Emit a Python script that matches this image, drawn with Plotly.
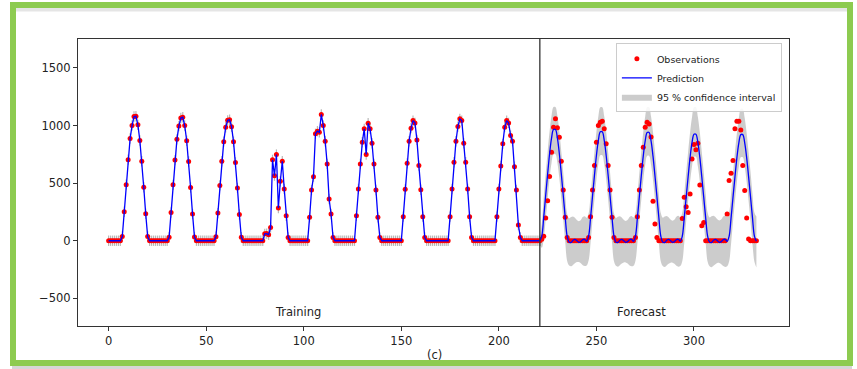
import plotly.graph_objects as go

# ---------------- data ----------------
split_x = 221

train_x = list(range(0, 222))
obs_train = [
    0, 0, 0, 0, 0, 0, 0, 37, 252, 487, 704, 887, 1000, 1078, 1080, 1006, 870, 690, 464, 234, 37, 0, 0, 0,
    0, 0, 0, 0, 0, 0, 0, 30, 245, 485, 700, 880, 995, 1065, 1072, 1000, 868, 688, 462, 232, 32, 0, 0, 0,
    0, 0, 0, 0, 0, 0, 0, 35, 240, 480, 690, 860, 985, 1045, 1050, 990, 860, 680, 458, 228, 30, 0, 0, 0,
    0, 0, 0, 0, 0, 0, 0, 0, 60, 62, 52, 116, 702, 565, 748, 284, 516, 690, 450, 217, 29, 0, 0, 0,
    0, 0, 0, 0, 0, 0, 0, 203, 440, 556, 928, 951, 942, 1096, 1000, 864, 667, 362, 232, 29, 0, 0, 0, 0,
    0, 0, 0, 0, 0, 0, 0, 217, 449, 667, 855, 971, 748, 1020, 971, 846, 667, 440, 203, 29, 0, 0, 0, 0,
    0, 0, 0, 0, 0, 0, 0, 209, 446, 672, 864, 977, 1043, 1023, 875, 652, 443, 209, 29, 0, 0, 0, 0, 0,
    0, 0, 0, 0, 0, 0, 0, 209, 449, 681, 864, 991, 1058, 1043, 846, 681, 449, 209, 29, 0, 0, 0, 0, 0,
    0, 0, 0, 0, 0, 0, 0, 209, 449, 649, 841, 986, 1043, 1023, 913, 864, 643, 441, 136, 29, 0, 0, 0, 0,
    0, 0, 0, 0, 0, 0,
]
train_ci_halfwidth = 45

fc_x = list(range(222, 333))
obs_fc = [
    13, 40, 197, 348, 557, 768, 986, 1058, 980, 899, 690, 441, 203, 29, 0, 0, 0, 0,
    0, 0, 0, 0, 0, 0, 29, 209, 441, 652, 855, 1000, 1029, 1037, 971, 841, 652, 441, 203, 29, 0, 0, 0, 0,
    0, 0, 0, 0, 0, 0, 29, 209, 441, 652, 812, 986, 1029, 1014, 900, 342, 145, 29, 0, 0, 0, 0, 0, 0,
    0, 0, 0, 0, 0, 0, 194, 377, 296, 246, 406, 710, 835, 789, 846, 484, 130, 159, 0, 0, 0, 0, 0, 0,
    0, 0, 0, 0, 0, 232, 522, 585, 696, 971, 1037, 1037, 962, 652, 435, 197, 15, 0, 0, 0, 0,
]

pred_x = list(range(221, 333))
pred_fc = [
    0, 40, 205, 395, 580, 755, 890, 965, 965, 890, 755, 580, 395, 205, 40, -12, -15, 5, 12,
    0, -14, -8, 10, 12, -5, 40, 200, 387, 568, 740, 872, 945, 945, 872, 740, 568, 387, 200, 40, -12, -15, 5, 12,
    0, -14, -8, 10, 12, -5, 40, 199, 384, 564, 734, 866, 939, 939, 866, 734, 564, 384, 199, 40, -12, -15, 5, 12,
    0, -14, -8, 10, 12, -5, 39, 196, 378, 555, 723, 852, 924, 924, 852, 723, 555, 378, 196, 39, -12, -15, 5, 12,
    0, -14, -8, 10, 12, -5, 38, 196, 377, 554, 721, 850, 921, 921, 850, 721, 554, 377, 196, 38, -5,
]
ci_upper = [
    40, 150, 380, 585, 775, 950, 1085, 1160, 1160, 1085, 950, 775, 590, 400, 235, 195, 205, 210, 200,
    180, 170, 180, 205, 212, 200, 238, 400, 588, 772, 945, 1080, 1158, 1158, 1080, 945, 772, 590, 400, 238, 198, 208, 212, 202,
    182, 172, 182, 207, 214, 202, 240, 402, 590, 772, 943, 1078, 1158, 1158, 1078, 943, 772, 592, 402, 240, 200, 210, 214, 204,
    184, 174, 184, 209, 216, 204, 242, 405, 592, 772, 942, 1075, 1158, 1158, 1075, 942, 772, 594, 405, 242, 202, 212, 216, 206,
    186, 176, 186, 211, 218, 206, 244, 405, 590, 768, 935, 1065, 1145, 1145, 1065, 935, 768, 594, 405, 244, 210,
]
ci_lower = [
    -40, -60, 20, 185, 365, 540, 675, 750, 750, 675, 540, 365, 180, -10, -175, -215, -222, -210, -195,
    -185, -185, -195, -212, -220, -215, -172, -20, 180, 360, 532, 665, 742, 742, 665, 532, 360, 175, -15, -178, -218, -225, -212, -198,
    -188, -188, -198, -215, -222, -218, -175, -22, 175, 355, 525, 658, 736, 736, 658, 525, 355, 170, -20, -180, -220, -228, -215, -200,
    -190, -190, -200, -218, -225, -220, -178, -25, 168, 345, 512, 645, 728, 728, 645, 512, 345, 165, -25, -182, -222, -230, -218, -203,
    -193, -193, -203, -220, -228, -222, -180, -28, 165, 342, 510, 642, 725, 725, 642, 510, 342, 162, -30, -185, -232,
]

x_ticks = [0, 50, 100, 150, 200, 250, 300]
y_ticks = [-500, 0, 500, 1000, 1500]

FONT = "DejaVu Sans"
TXT = "#222222"

fig = go.Figure()

# forecast confidence band
fig.add_trace(go.Scatter(x=pred_x, y=ci_lower, mode="lines",
                         line=dict(width=0, color="rgba(0,0,0,0)", shape="spline"),
                         showlegend=False, hoverinfo="skip"))
fig.add_trace(go.Scatter(x=pred_x, y=ci_upper, mode="lines", fill="tonexty",
                         fillcolor="rgba(0,0,0,0.2)",
                         line=dict(width=0, color="rgba(0,0,0,0)", shape="spline"),
                         name="95 % confidence interval", legendrank=3))

# training confidence (thin comb)
fig.add_trace(go.Scatter(x=train_x, y=obs_train, mode="markers",
                         marker=dict(size=1, color="rgba(0,0,0,0)"),
                         error_y=dict(type="constant", value=train_ci_halfwidth,
                                      color="rgba(0,0,0,0.28)", thickness=1.2, width=0),
                         showlegend=False, hoverinfo="skip"))

# observations
fig.add_trace(go.Scatter(x=train_x + fc_x, y=obs_train + obs_fc, mode="markers",
                         marker=dict(size=5, color="#ff0000"),
                         name="Observations", legendrank=1))

# prediction
fig.add_trace(go.Scatter(x=train_x, y=obs_train, mode="lines",
                         line=dict(color="#0000ff", width=1.3),
                         name="Prediction", legendrank=2))
fig.add_trace(go.Scatter(x=pred_x, y=pred_fc, mode="lines",
                         line=dict(color="#0000ff", width=1.3, shape="spline"),
                         showlegend=False))

L, R, T, B = 78, 68, 39, 43
W, H = 857, 369
pw, ph = W - L - R, H - T - B


def px_x(p):
    return (p - L) / pw


def px_y(p):
    return (H - B - p) / ph


shapes = [
    dict(type="line", xref="x", yref="paper", x0=split_x, x1=split_x, y0=0, y1=1,
         line=dict(color="#333333", width=1.3), layer="above"),
    # decorative frame
    dict(type="line", xref="paper", yref="paper", x0=px_x(16), x1=px_x(847),
         y0=px_y(9.5), y1=px_y(9.5), line=dict(color="rgba(0,0,0,0.10)", width=4)),
    dict(type="line", xref="paper", yref="paper", x0=px_x(12), x1=px_x(852),
         y0=px_y(367.5), y1=px_y(367.5), line=dict(color="rgba(0,0,0,0.16)", width=3)),
    dict(type="rect", xref="paper", yref="paper", x0=px_x(13), x1=px_x(850),
         y0=px_y(363), y1=px_y(5), line=dict(color="#8dcb50", width=6)),
]

annotations = [
    dict(x=97, y=-616, xref="x", yref="y", text="Training", showarrow=False,
         xanchor="center", yanchor="middle",
         font=dict(family=FONT, size=11.5, color=TXT)),
    dict(x=273, y=-616, xref="x", yref="y", text="Forecast", showarrow=False,
         xanchor="center", yanchor="middle",
         font=dict(family=FONT, size=11.5, color=TXT)),
    dict(x=px_x(434), y=px_y(355), xref="paper", yref="paper", text="(c)", showarrow=False,
         xanchor="center", yanchor="middle",
         font=dict(family=FONT, size=11.5, color=TXT)),
]

fig.update_layout(
    width=W, height=H,
    margin=dict(l=L, r=R, t=T, b=B),
    paper_bgcolor="white", plot_bgcolor="white",
    font=dict(family=FONT, size=11.5, color=TXT),
    showlegend=True,
    legend=dict(x=0.99, y=0.985, xanchor="right", yanchor="top",
                bgcolor="rgba(255,255,255,0.85)", bordercolor="#cccccc", borderwidth=1,
                font=dict(family=FONT, size=9.5, color=TXT), itemwidth=30,
                tracegroupgap=0, traceorder="normal"),
    shapes=shapes,
    annotations=annotations,
)
fig.update_xaxes(range=[-15.7, 348.7], tickvals=x_ticks, showgrid=False, zeroline=False,
                 showline=True, mirror=True, linecolor="#333333", linewidth=1,
                 ticks="outside", ticklen=4, tickcolor="#333333")
fig.update_yaxes(range=[-740, 1751], tickvals=y_ticks, showgrid=False, zeroline=False,
                 showline=True, mirror=True, linecolor="#333333", linewidth=1,
                 ticks="outside", ticklen=4, tickcolor="#333333")

fig.write_html("out.html",
               config={"displayModeBar": False},
               post_script="document.body.style.margin='0';document.body.style.overflow='hidden';")
